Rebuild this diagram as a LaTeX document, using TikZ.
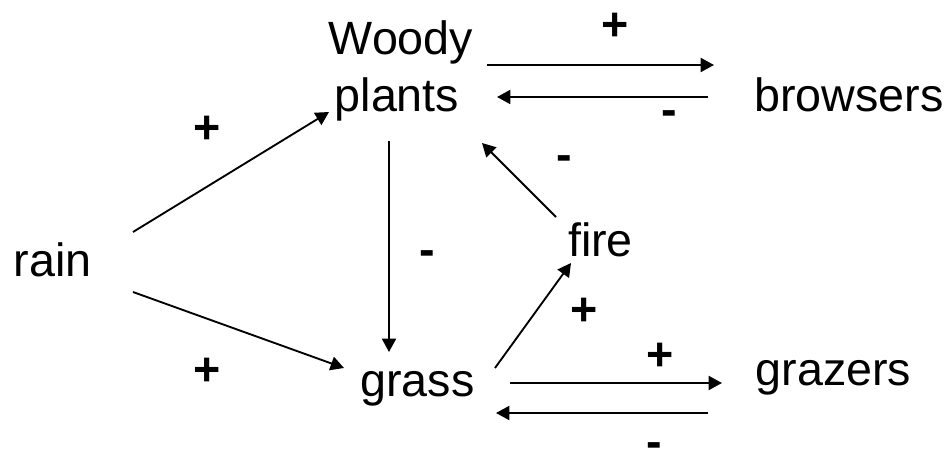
\documentclass[tikz,border=0pt]{standalone}
\usepackage{fontspec}
\setmainfont{Liberation Sans}
\usetikzlibrary{arrows.meta}
\begin{document}
\begin{tikzpicture}[x=0.75pt,y=-0.75pt,
  lbl/.style={inner sep=0pt,anchor=base,font=\fontsize{35pt}{42pt}\selectfont},
  sgn/.style={inner sep=0pt,anchor=base,font=\fontsize{35pt}{42pt}\selectfont\bfseries},
  arr/.style={line width=1.4pt,-{Triangle[length=10pt,width=10.5pt]}}]
\useasboundingbox (0,0) rectangle (950,452);

% variables
\node[lbl] (rain)     at (52.5,277) {rain};
\node[lbl] (woody)    at (401,55)   {Woody};
\node[lbl] (plants)   at (397,112)  {plants};
\node[lbl] (browsers) at (849,112)  {browsers};
\node[lbl] (fire)     at (600.5,257) {fire};
\node[lbl] (grass)    at (417.5,397) {grass};
\node[lbl] (grazers)  at (833.5,385) {grazers};

% influences
\draw[arr] ([shift={(80.5,-45)}]rain.base) -- ([shift={(-68,0)}]plants.base);
\draw[arr] ([shift={(80.5,15)}]rain.base) -- ([shift={(-73.5,-29)}]grass.base);
\draw[arr] ([shift={(86,10)}]woody.base) -- ([shift={(-135,-47)}]browsers.base);
\draw[arr] ([shift={(-141,-15)}]browsers.base) -- ([shift={(100,-15)}]plants.base);
\draw[arr] ([shift={(-8,29)}]plants.base) -- ([shift={(-28.5,-45)}]grass.base);
\draw[arr] ([shift={(-44.5,-40)}]fire.base) -- ([shift={(85,31)}]plants.base);
\draw[arr] ([shift={(77.5,-29)}]grass.base) -- ([shift={(-29.5,6)}]fire.base);
\draw[arr] ([shift={(92.5,-14)}]grass.base) -- ([shift={(-111.5,-2)}]grazers.base);
\draw[arr] ([shift={(-125.5,28)}]grazers.base) -- ([shift={(78.5,16)}]grass.base);

% signs
\node[sgn] (s1) at (615,41)  {+};
\node[sgn] (s2) at (669,126) {-};
\node[sgn] (s3) at (207,144) {+};
\node[sgn] (s4) at (207,386) {+};
\node[sgn] (s5) at (427,266) {-};
\node[sgn] (s6) at (564,171) {-};
\node[sgn] (s7) at (584,326) {+};
\node[sgn] (s8) at (660,371) {+};
\node[sgn] (s9) at (654,457) {\raisebox{0pt}[\height][-0.15em]{-}};
\end{tikzpicture}
\end{document}
